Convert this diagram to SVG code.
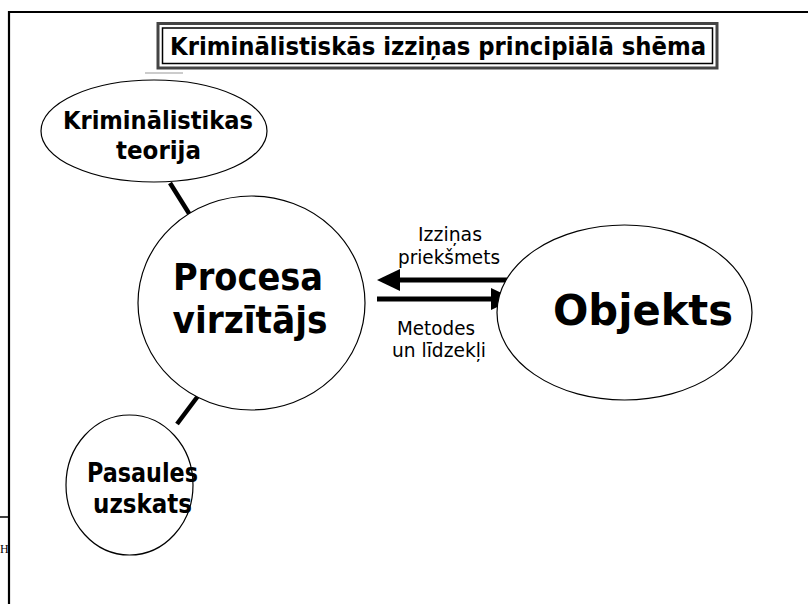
<svg xmlns="http://www.w3.org/2000/svg" width="808" height="604" viewBox="0 0 808 604">
<style>
.node{fill:#fff;stroke:#000;stroke-width:1.2}
.b{font-family:"DejaVu Sans Condensed","DejaVu Sans",sans-serif;font-weight:bold;fill:#000;text-anchor:middle}
.n{font-family:"DejaVu Sans",sans-serif;fill:#000;text-anchor:middle;font-size:19px}
.link{stroke:#000;stroke-width:4.5;fill:none}
.arr{stroke:#000;stroke-width:5;fill:none}
</style>
<rect width="808" height="604" fill="#fff"/>
<g id="frame">
<path d="M9 604 V12 H808" fill="none" stroke="#000" stroke-width="2.2"/>
<path d="M0 517 H9" stroke="#000" stroke-width="1.5"/>
<text x="0" y="553" font-family="Liberation Serif,serif" font-size="12">H</text>
</g>
<g id="title">
<path d="M145 73 H183" stroke="#999" stroke-width="1"/>
<rect x="158" y="23.5" width="559" height="44.5" fill="#fff" stroke="#444" stroke-width="3"/>
<rect x="162.5" y="28" width="550" height="35.5" fill="none" stroke="#000" stroke-width="1.5"/>
<text class="b" x="438" y="54.5" font-size="25" textLength="536" lengthAdjust="spacingAndGlyphs">Kriminālistiskās izziņas principiālā shēma</text>
</g>
<g id="connectors">
<line class="link" x1="170" y1="183" x2="190" y2="215"/>
<line class="link" x1="198" y1="396" x2="177" y2="424"/>
<line class="arr" x1="507" y1="280" x2="395" y2="280"/>
<polygon points="377,280 400,269 400,291" fill="#000"/>
<line class="arr" x1="377" y1="299" x2="495" y2="299"/>
<polygon points="514,299 491,288 491,310" fill="#000"/>
<text class="n" x="450" y="241" textLength="64" lengthAdjust="spacingAndGlyphs">Izziņas</text>
<text class="n" x="449" y="264" textLength="102" lengthAdjust="spacingAndGlyphs">priekšmets</text>
<text class="n" x="436" y="335" textLength="78" lengthAdjust="spacingAndGlyphs">Metodes</text>
<text class="n" x="439" y="357" textLength="94" lengthAdjust="spacingAndGlyphs">un līdzekļi</text>
</g>
<g id="teorija">
<ellipse class="node" cx="154" cy="131" rx="113" ry="51"/>
<text class="b" x="158" y="129" font-size="25" textLength="190" lengthAdjust="spacingAndGlyphs">Kriminālistikas</text>
<text class="b" x="158.5" y="159" font-size="25" textLength="85" lengthAdjust="spacingAndGlyphs">teorija</text>
</g>
<g id="procesa">
<ellipse class="node" cx="251.5" cy="303" rx="113.5" ry="107"/>
<text class="b" x="248" y="290" font-size="38" textLength="150" lengthAdjust="spacingAndGlyphs">Procesa</text>
<text class="b" x="250" y="333" font-size="38" textLength="155" lengthAdjust="spacingAndGlyphs">virzītājs</text>
</g>
<g id="pasaules">
<ellipse class="node" cx="129.5" cy="485" rx="63.5" ry="70"/>
<text class="b" x="142.5" y="482" font-size="27" textLength="111" lengthAdjust="spacingAndGlyphs">Pasaules</text>
<text class="b" x="142.5" y="513" font-size="27" textLength="99" lengthAdjust="spacingAndGlyphs">uzskats</text>
</g>
<g id="objekts">
<ellipse class="node" cx="624.5" cy="312.5" rx="127.5" ry="87.5"/>
<text class="b" x="643" y="325" font-size="42" textLength="180" lengthAdjust="spacingAndGlyphs">Objekts</text>
</g>
</svg>
